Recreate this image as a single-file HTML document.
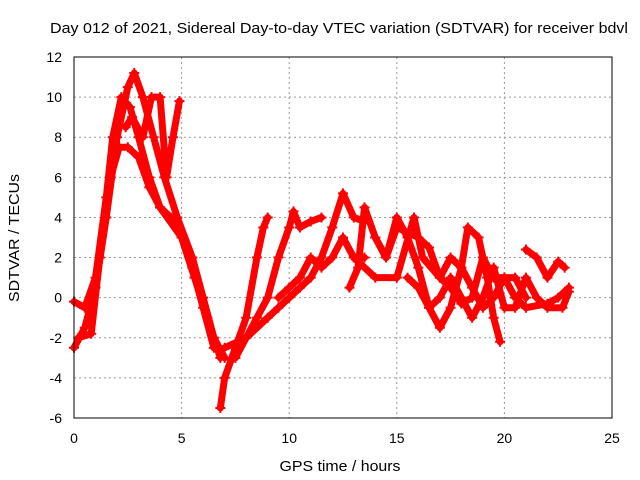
<!DOCTYPE html>
<html><head><meta charset="utf-8"><style>
html,body{margin:0;padding:0;background:#fff;width:640px;height:480px;overflow:hidden}
svg{display:block;font-family:"Liberation Sans",sans-serif}
</style></head><body>
<svg id="chart" width="640" height="480">
<text x="339" y="33" text-anchor="middle" font-size="15" textLength="578" lengthAdjust="spacingAndGlyphs">Day 012 of 2021, Sidereal Day-to-day VTEC variation (SDTVAR) for receiver bdvl</text>
<text transform="translate(19,238) rotate(-90)" text-anchor="middle" font-size="15" textLength="128" lengthAdjust="spacingAndGlyphs">SDTVAR / TECUs</text>
<text x="340" y="471" text-anchor="middle" font-size="15" textLength="121" lengthAdjust="spacingAndGlyphs">GPS time / hours</text>
<g id="grid"></g><g id="series"></g>
<rect x="74" y="57" width="538" height="361" fill="none" stroke="#000" stroke-width="1"/>
</svg>
<script>
const xTicks=[0,5,10,15,20,25];
const yTicks=[-6,-4,-2,0,2,4,6,8,10,12];
const traceA=[[0,-2.5],[0.5,-1.5],[1,0.5],[1.5,4],[2,8],[2.5,10.5],[2.8,11.2],[3.2,10],[3.7,8],[4.2,6],[4.8,4],[5.5,2],[6,0],[6.5,-2],[7,-3]];
const traceB=[[0,-0.2],[0.5,-0.5],[1,1],[1.5,5],[1.8,8],[2.2,10],[2.6,9.5],[3,8],[3.5,6],[4,4.5],[5,3],[5.5,1.5],[6,-0.5],[6.5,-2.5]];
const traceC=[[0.2,-2],[0.8,-1.8],[1.2,2],[1.7,6],[2.1,7.5],[2.5,7.5],[3,7],[3.5,5.5],[4,4.5],[4.5,4],[5,3],[5.6,1],[6.2,-1],[6.8,-3]];
const traceD=[[2.4,8.5],[2.7,9],[3.2,8],[3.6,10],[4,10],[4.3,6],[4.6,8],[4.9,9.8]];
const traceE=[[6.8,-5.5],[7,-4],[7.5,-2.5],[8,-1],[8.5,2],[8.8,3.5],[9,4]];
const traceF=[[7,-2.5],[8,-2],[8.5,-1],[9,0],[9.5,2],[10,3.5],[10.2,4.3],[10.5,3.5],[11,3.8],[11.5,4]];
const traceG=[[7.5,-3],[8,-2],[9,-1],[9.5,-0.5],[10,0],[10.5,0.5],[11,1],[11.5,2],[12,3.5],[12.5,5.2],[13,4],[13.5,3.8]];
const traceH=[[9.5,0],[10,0.5],[10.5,1],[11,2],[11.5,1.5],[12,2],[12.5,3],[13,2],[13.5,2]];
const traceI=[[12.8,0.5],[13.2,1.5],[13.5,4.5],[14,3],[14.5,2],[15,4],[15.5,3],[16,1.5],[16.5,-0.5],[17,-1.5],[17.5,-0.5],[18,1.5],[18.3,3.5],[18.8,3],[19.2,1],[19.5,-1],[19.8,-2.2]];
const traceJ=[[13,2],[14,1],[15,1],[15.8,4],[16.2,2],[17,1],[17.5,0.5],[18,-0.3],[18.5,0],[19,2],[19.5,1],[20,1],[20.5,0],[21,-0.5],[22,-0.3],[22.5,0],[23,0.5]];
const traceK=[[14,3],[14.5,2],[15,3.5],[16,3],[16.5,2.5],[17,1],[17.5,2],[18,1.5],[18.5,0.5],[19,-0.5],[19.5,0],[20,1],[20.5,1],[21,0]];
const traceL=[[21,2.4],[21.5,2],[22,1],[22.5,1.8],[22.8,1.5]];
const traceM=[[15.5,1],[16,0.5],[16.5,-0.5],[17,0],[17.5,1],[18,0],[18.5,-1],[19,0],[19.5,1.5],[20,-0.5],[20.5,-0.5],[21,1],[21.5,0],[22,-0.5],[22.7,-0.5],[23,0.3]];
const traces=[traceA,traceB,traceC,traceD,traceE,traceF,traceG,traceH,traceI,traceJ,traceK,traceL,traceM];
const NS='http://www.w3.org/2000/svg';
const X0=74,X1=612,Y0=418,Y1=57;
function sx(t){return X0+(t-0)/(25-0)*(X1-X0);}
function sy(v){return Y0-(v+6)/(12+6)*(Y0-Y1);}
const grid=document.getElementById('grid');
xTicks.forEach(t=>{
  if(t>0&&t<25){const l=document.createElementNS(NS,'line');
  l.setAttribute('x1',sx(t));l.setAttribute('x2',sx(t));l.setAttribute('y1',Y1);l.setAttribute('y2',Y0);
  l.setAttribute('stroke','#999');l.setAttribute('stroke-dasharray','2,3');
  
  
  grid.appendChild(l);}
  const tx=document.createElementNS(NS,'text');
  tx.setAttribute('x',sx(t));tx.setAttribute('y',443);tx.setAttribute('text-anchor','middle');tx.setAttribute('font-size','14');
  tx.textContent=t;
  
  
  grid.appendChild(tx);
});
yTicks.forEach(v=>{
  if(v>-6&&v<12){const l=document.createElementNS(NS,'line');
  l.setAttribute('x1',X0);l.setAttribute('x2',X1);l.setAttribute('y1',sy(v));l.setAttribute('y2',sy(v));
  l.setAttribute('stroke','#999');l.setAttribute('stroke-dasharray','2,3');
  
  
  grid.appendChild(l);}
  const tx=document.createElementNS(NS,'text');
  tx.setAttribute('x',62);tx.setAttribute('y',sy(v)+5);tx.setAttribute('text-anchor','end');tx.setAttribute('font-size','14');
  tx.textContent=v;
  
  
  grid.appendChild(tx);
});
const series=document.getElementById('series');
traces.forEach((tr,i)=>{
  const p=document.createElementNS(NS,'polyline');
  p.setAttribute('points',tr.map(d=>sx(d[0])+','+sy(d[1])).join(' '));
  p.setAttribute('fill','none');p.setAttribute('stroke','#f00');p.setAttribute('stroke-width','7');
  p.setAttribute('stroke-linejoin','round');p.setAttribute('stroke-linecap','round');
  
  
  series.appendChild(p);
  tr.forEach(d=>{
    const m=document.createElementNS(NS,'path');
    const x=sx(d[0]),y=sy(d[1]);
    m.setAttribute('d',`M${x-5},${y}H${x+5}M${x},${y-5}V${y+5}`);
    m.setAttribute('stroke','#f00');m.setAttribute('stroke-width','2');
    
    
    series.appendChild(m);
  });
});
</script>
</body></html>
